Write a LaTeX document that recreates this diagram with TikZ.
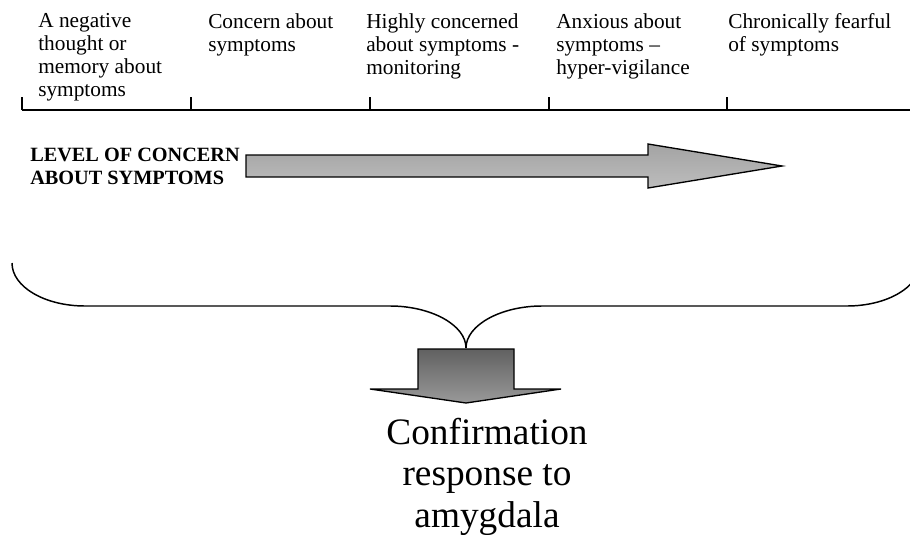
\documentclass[tikz,border=0pt]{standalone}
\usepackage{fontspec}
\setmainfont{Liberation Serif}
\begin{document}
\begin{tikzpicture}[x=0.75pt,y=-0.75pt,
  lbl/.style={anchor=north west,inner sep=0pt,align=left,font=\fontsize{16}{17.25}\selectfont},
  boldlbl/.style={anchor=north west,inner sep=0pt,align=left,font=\fontsize{15.2}{17.25}\selectfont\bfseries},
  biglbl/.style={anchor=north,inner sep=0pt,align=center,font=\fontsize{28}{31}\selectfont},
  axisline/.style={line width=1.1pt,black},
  bracepath/.style={line width=1.1pt,black},
  bigarrow/.style={draw=black,line width=1pt,top color=black!36,bottom color=black!26},
  downarrow/.style={draw=black,line width=1pt,top color=black!62,bottom color=black!40}]
\useasboundingbox (0,0) rectangle (910,535);
% timeline
\coordinate (t0) at (22,110);
\coordinate (t1) at (191,110);
\coordinate (t2) at (370,110);
\coordinate (t3) at (549,110);
\coordinate (t4) at (727,110);
\coordinate (tend) at (910,110);
\draw[axisline] (t0) -- (tend);
\foreach \t in {t0,t1,t2,t3,t4} \draw[axisline] (\t) -- ++(0,-13);
% stage labels
\node[lbl] (l1) at (38,13.5) {A negative\\thought or\\memory about\\symptoms};
\node[lbl] (l2) at (208,13.5) {Concern about\\symptoms};
\node[lbl] (l3) at (366,13.5) {Highly concerned\\about symptoms -\\monitoring};
\node[lbl] (l4) at (556,13.5) {Anxious about\\symptoms –\\hyper-vigilance};
\node[lbl] (l5) at (728,13.5) {Chronically fearful\\of symptoms};
% level of concern
\node[boldlbl] (lev) at (30,148) {LEVEL OF CONCERN\\ABOUT SYMPTOMS};
\draw[bigarrow] (246,155) -- (648,155) -- (648,144) -- (782,166) -- (648,188) -- (648,177) -- (246,177) -- cycle;
% brace
\coordinate (bl) at (12,263);
\coordinate (br) at (920,263);
\coordinate (bt) at (466,348);
\draw[bracepath] (bl) .. controls (12,287) and (45,306) .. (85,306) -- (390,306) .. controls (431,306) and (466,325) .. (bt);
\draw[bracepath] (bt) .. controls (466,325) and (501,306) .. (542,306) -- (847,306) .. controls (887,306) and (920,287) .. (br);
% down arrow
\draw[downarrow] (418,349) -- (514,349) -- (514,389) -- (561,389) -- (466,403) -- (370,389) -- (418,389) -- cycle;
% result
\node[biglbl] (conf) at (487,418) {Confirmation\\response to\\amygdala};
\end{tikzpicture}
\end{document}
